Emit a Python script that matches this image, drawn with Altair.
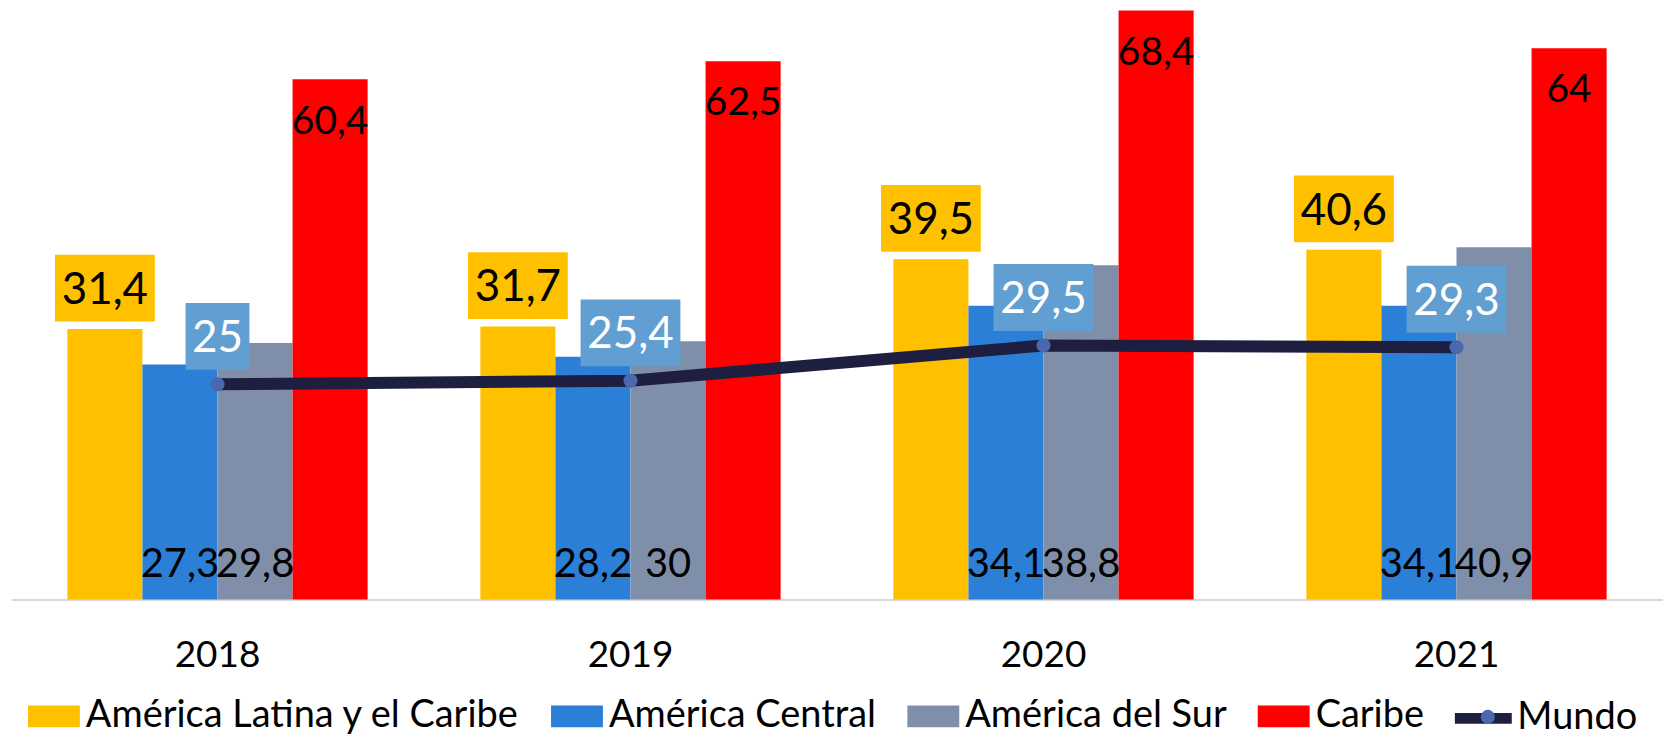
import altair as alt
import pandas as pd

years = ["2018", "2019", "2020", "2021"]
series = ["América Latina y el Caribe", "América Central", "América del Sur", "Caribe"]
alc = [31.4, 31.7, 39.5, 40.6]
central = [27.3, 28.2, 34.1, 34.1]
sur = [29.8, 30.0, 38.8, 40.9]
caribe = [60.4, 62.5, 68.4, 64.0]
mundo = [25.0, 25.4, 29.5, 29.3]

bar_colors = ["#ffc000", "#2b7fd6", "#7f8faa", "#ff0000"]
line_color = "#1e1f40"
dot_color = "#4b67ae"
box_mundo = "#619ed2"
FONT = "Lato"


def fmt(v):
    return f"{v:g}".replace(".", ",")


def box_path(label, lift):
    # custom symbol path, drawn at size 10000 -> 50 px per path unit
    hw = (100 if len(label) > 2 else 64) / 2 / 50
    top = (-lift - 33.5) / 50
    bot = (-lift + 33.5) / 50
    return f"M{-hw},{top}L{hw},{top}L{hw},{bot}L{-hw},{bot}Z"


rows = []
for name, vals in zip(series, [alc, central, sur, caribe]):
    for y, v in zip(years, vals):
        rows.append({"year": y, "serie": name, "value": v, "label": fmt(v),
                     "path": box_path(fmt(v), 41)})
bars_df = pd.DataFrame(rows)

line_df = pd.DataFrame({"year": years, "value": mundo, "s": ["Mundo"] * 4,
                        "d": [" "] * 4,
                        "label": [fmt(v) for v in mundo],
                        "path": [box_path(fmt(v), 48) for v in mundo]})

x_enc = alt.X("year:N", sort=years,
              scale=alt.Scale(paddingInner=0.273, paddingOuter=0.1365),
              axis=alt.Axis(title=None, labelAngle=0, ticks=False, domainColor="#d9d9d9",
                            domainWidth=2, labelFont=FONT, labelFontSize=37,
                            labelColor="black", labelPadding=38))
y_enc = alt.Y("value:Q", scale=alt.Scale(domain=[0, 68.6], nice=False), axis=None)
xo = alt.XOffset("serie:N", sort=series,
                 scale=alt.Scale(domain=series, paddingInner=0, paddingOuter=0))

base = alt.Chart(bars_df)

bars = base.mark_bar().encode(
    x=x_enc, y=y_enc, xOffset=xo,
    color=alt.Color("serie:N", sort=series,
                    scale=alt.Scale(domain=series, range=bar_colors),
                    legend=alt.Legend(title=None, orient="none", direction="horizontal",
                                      legendX=17, legendY=683, padding=0,
                                      symbolType="M-1,-0.42L1,-0.42L1,0.42L-1,0.42Z",
                                      symbolSize=2704, symbolStrokeWidth=0, symbolOpacity=1,
                                      labelFont=FONT, labelFontSize=38, labelColor="black",
                                      labelOffset=6, columnPadding=31, labelLimit=0)),
)

alc_box = base.transform_filter(alt.datum.serie == series[0]).mark_point(
    filled=True, size=10000, opacity=1, strokeWidth=0, color="#ffc000"
).encode(x=x_enc, y=y_enc, xOffset=xo, shape=alt.Shape("path:N", scale=None))

alc_text = base.transform_filter(alt.datum.serie == series[0]).mark_text(
    font=FONT, fontSize=44, color="black", baseline="middle", align="center", dy=-38.4
).encode(x=x_enc, y=y_enc, xOffset=xo, text="label:N")

car_text = base.transform_filter(alt.datum.serie == series[3]).mark_text(
    font=FONT, fontSize=39, color="black", baseline="middle", align="center", dy=42.3
).encode(x=x_enc, y=y_enc, xOffset=xo, text="label:N")

low_text = base.transform_filter(
    (alt.datum.serie == series[1]) | (alt.datum.serie == series[2])
).mark_text(
    font=FONT, fontSize=40, color="black", baseline="middle", align="center", dy=-34.6
).encode(x=x_enc, y=alt.value(592), xOffset=xo, text="label:N")

lbase = alt.Chart(line_df)

line = lbase.mark_line(strokeWidth=12).encode(
    x=x_enc, y=y_enc,
    stroke=alt.Stroke("s:N", scale=alt.Scale(domain=["Mundo"], range=[line_color]),
                      legend=alt.Legend(title=None, orient="none", legendX=1441, legendY=677,
                                        padding=0, symbolType="stroke", symbolSize=3249,
                                        symbolStrokeWidth=11, labelFont=FONT,
                                        labelFontSize=38, labelColor="black",
                                        labelOffset=0, labelLimit=0)),
)

dots = lbase.mark_circle(size=200, opacity=1).encode(
    x=x_enc, y=y_enc,
    fill=alt.Fill("d:N", scale=alt.Scale(domain=[" "], range=[dot_color]),
                  legend=alt.Legend(title=None, orient="none", legendX=1472, legendY=702,
                                    padding=0, symbolType="circle", symbolSize=200,
                                    symbolStrokeWidth=0, symbolOpacity=1,
                                    labelExpr="''", labelFontSize=1, zindex=1)),
)

m_box = lbase.mark_point(filled=True, size=10000, opacity=1, strokeWidth=0,
                         color=box_mundo).encode(
    x=x_enc, y=y_enc, shape=alt.Shape("path:N", scale=None))

m_text = lbase.mark_text(font=FONT, fontSize=44, color="white", baseline="middle",
                         align="center", dy=-45.4).encode(x=x_enc, y=y_enc, text="label:N")

chart = alt.layer(
    bars, alc_box, alc_text, car_text, low_text, line, dots, m_box, m_text
).resolve_scale(color="independent").properties(
    width=1655, height=592, background="white",
    padding={"left": 3, "top": 0, "right": 0, "bottom": 0},
).configure_view(stroke=None)

chart.save("out.html", embed_options={"renderer": "svg", "actions": False})
